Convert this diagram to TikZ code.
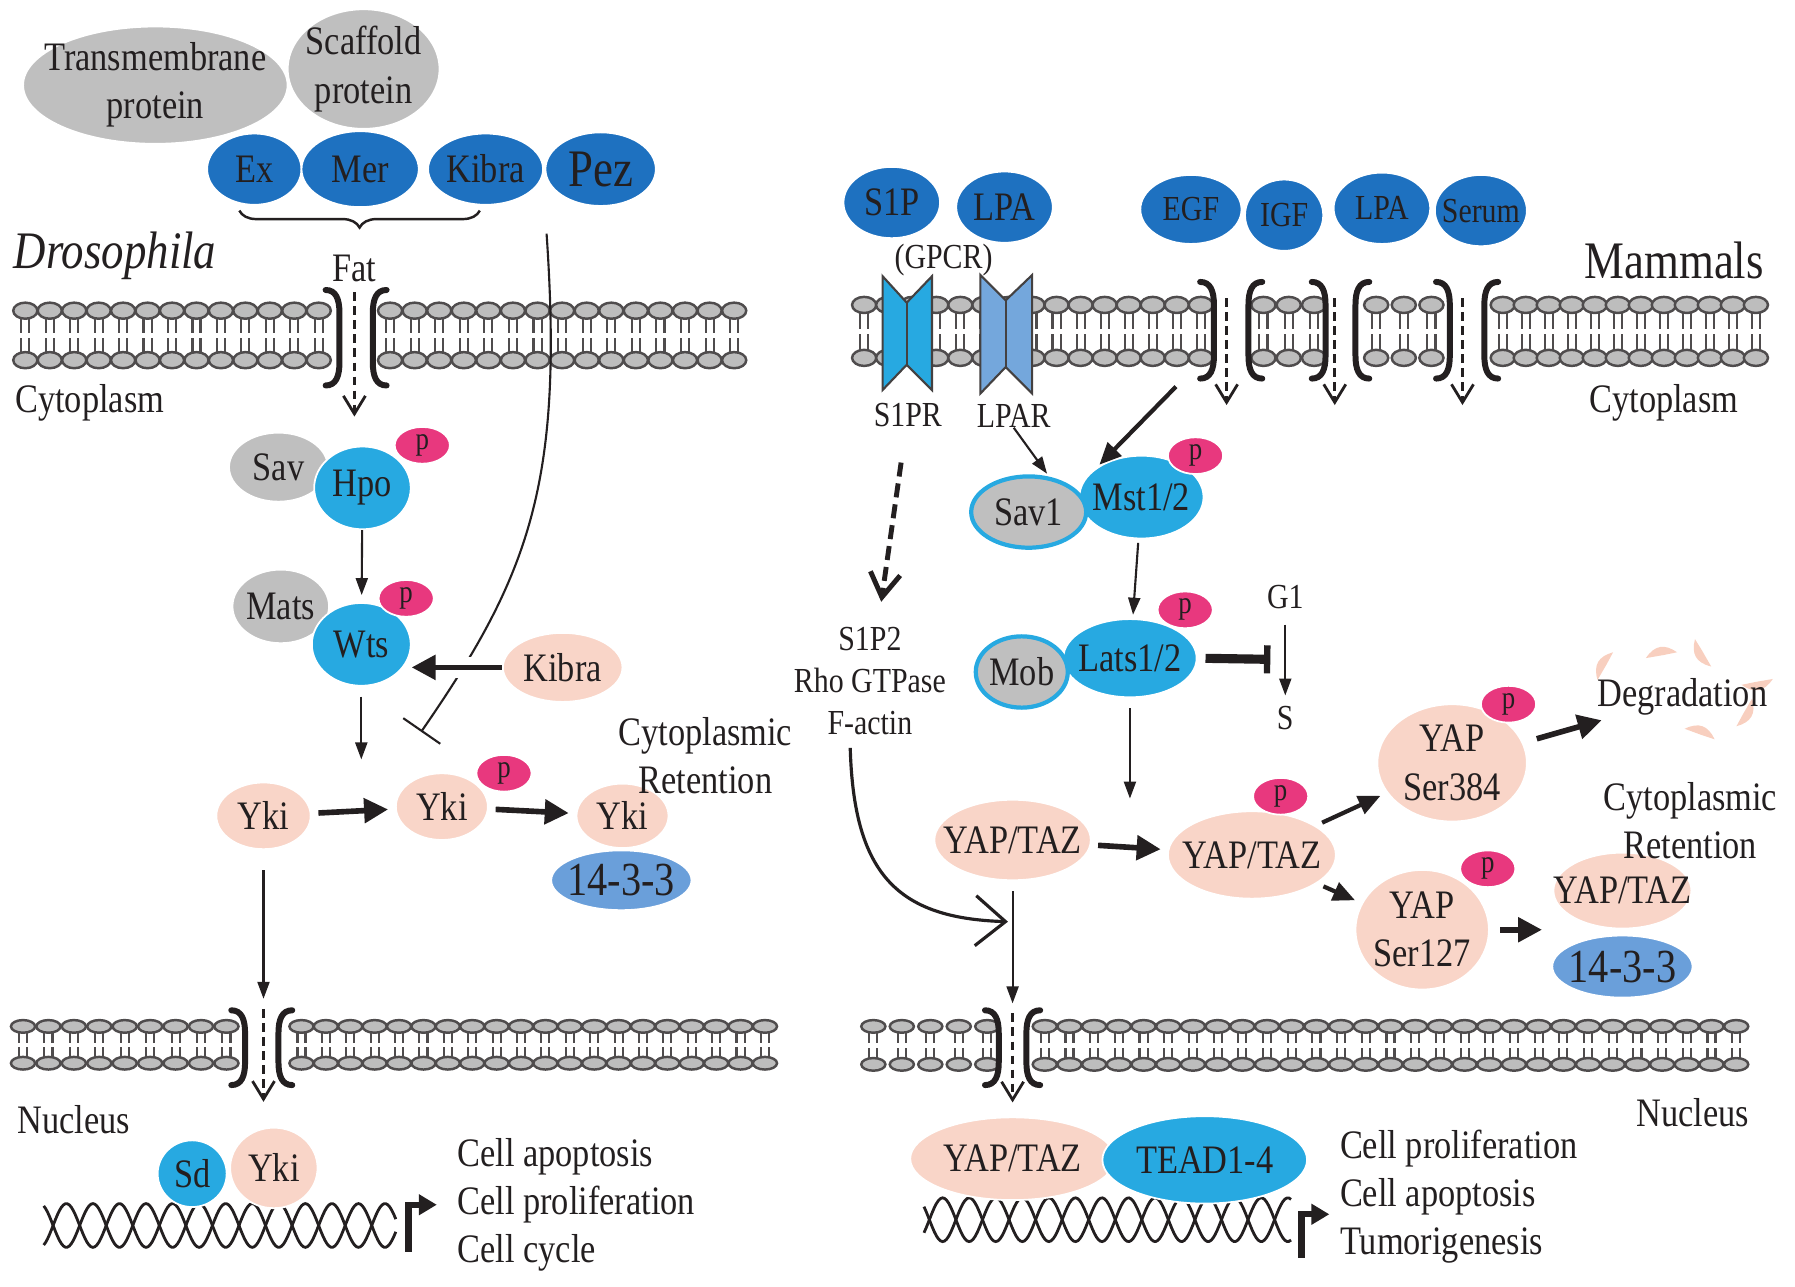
\documentclass[tikz,border=0pt]{standalone}
\usepackage{fontspec}
\setmainfont{Liberation Serif}[FakeStretch=0.85]
\usetikzlibrary{shapes.geometric,arrows.meta,decorations.pathreplacing}

\definecolor{darkblue}{HTML}{1E71C0}
\definecolor{cyanp}{HTML}{27A9E1}
\definecolor{midblue}{HTML}{6A9FDA}
\definecolor{lparblue}{HTML}{74A7DC}
\definecolor{pinkp}{HTML}{F9D5C8}
\definecolor{shardpink}{HTML}{F8CFBF}
\definecolor{grayp}{HTML}{BFBFBF}
\definecolor{magp}{HTML}{E8387E}
\definecolor{lipidgray}{HTML}{BDBDBD}
\definecolor{ink}{HTML}{231F20}

\newcommand\mainf{\fontsize{11.5}{13.7}\selectfont}
\newcommand\smallf{\fontsize{10}{12}\selectfont}
\newcommand\bigf{\fontsize{15}{18}\selectfont}
\newcommand\midf{\fontsize{13.5}{16}\selectfont}
\newcommand\pf{\fontsize{9}{10}\selectfont}

\tikzset{
  prot/.style={ellipse, inner sep=0pt, draw=white, line width=0.5pt},
  sz/.style 2 args={minimum width=#1*0.023cm, minimum height=#2*0.023cm},
  lbl/.style={font=\mainf, text=ink, inner sep=0pt, align=center},
  txt/.style={label={[lbl]center:#1}},
  txtsmall/.style={label={[lbl, font=\smallf]center:#1}},
  txtbig/.style={label={[lbl, font=\bigf]center:#1}},
  txtmid/.style={label={[lbl, font=\midf]center:#1}},
  phos/.style={prot, fill=magp, sz={24}{16}, label={[lbl, font=\pf]center:p}},
  lhead/.style={fill=lipidgray, draw=ink!80, line width=0.7pt},
  ltail/.style={draw=ink!80, line width=0.6pt},
  brk/.style={line width=1.7pt, draw=ink, line cap=round},
  rcp/.style={draw=ink!85, line width=0.6pt},
  dna/.style={line width=0.8pt, draw=ink},
  arrthin/.style={line width=0.6pt, draw=ink, -{Triangle[length=1.7mm, width=1.2mm]}},
  arrmid/.style={line width=1.2pt, draw=ink, -{Triangle[length=2.2mm, width=1.9mm]}},
  arrthick/.style={line width=1.6pt, draw=ink, -{Triangle[length=2.4mm, width=2.4mm]}},
  dasharr/.style={line width=0.8pt, draw=ink, dash pattern=on 2.5pt off 1.5pt, -{Straight Barb[length=1.8mm, width=2.2mm]}},
  dashthick/.style={line width=1.4pt, draw=ink, dash pattern=on 4pt off 2pt, -{Straight Barb[length=2.4mm, width=3mm]}},
  inhib/.style={line width=2.6pt, draw=ink, -{Bar[width=2.8mm, line width=1.8pt]}},
  inhthin/.style={line width=0.6pt, draw=ink, -{Bar[width=4.5mm]}},
  openv/.style={line width=0.9pt, draw=ink, -{Straight Barb[length=3mm, width=5mm]}},
  prom/.style={line width=1.8pt, draw=ink, -{Triangle[length=1.8mm, width=2mm]}},
}

% one lipid bilayer piece: first x, count, spacing, top y, bottom y, head y radius
\newcommand\lipidrow[6]{%
  \foreach \i in {1,...,#2}{%
    \pgfmathsetmacro\hx{#1+(\i-1)*#3}%
    \pgfmathsetmacro\hxa{\hx-3.5}%
    \pgfmathsetmacro\hxb{\hx+3.5}%
    \pgfmathsetmacro\hm{(#4+#5)/2}%
    \draw[ltail] (\hxa,#4) -- (\hxa,\hm-2) (\hxb,#4) -- (\hxb,\hm-2)
                 (\hxa,#5) -- (\hxa,\hm+2) (\hxb,#5) -- (\hxb,\hm+2);
    \filldraw[lhead] (\hx,#4) ellipse [x radius=10.5, y radius=#6]
                     (\hx,#5) ellipse [x radius=10.5, y radius=#6];
  }}
% pore brackets: x of the ends, top y, bottom y
\newcommand\rbrk[3]{\draw[brk] (#1,#2) .. controls (#1+9,#2) and (#1+12,#2+8) .. (#1+12,#2+20) -- (#1+12,#3-20) .. controls (#1+12,#3-8) and (#1+9,#3) .. (#1,#3);}
\newcommand\lbrk[3]{\draw[brk] (#1,#2) .. controls (#1-9,#2) and (#1-12,#2+8) .. (#1-12,#2+20) -- (#1-12,#3-20) .. controls (#1-12,#3-8) and (#1-9,#3) .. (#1,#3);}

\begin{document}
\begin{tikzpicture}[x=0.0115cm, y=-0.0115cm]
\useasboundingbox (0,0) rectangle (1560,1118);

% membranes
\lipidrow{22}{13}{21.25}{270}{313}{7}
\lipidrow{339}{15}{21.36}{270}{313}{7}
\lipidrow{751}{15}{20.9}{265}{311}{7}
\lipidrow{1098}{3}{22}{265}{311}{7}
\lipidrow{1196}{3}{24}{265}{311}{7}
\lipidrow{1306}{12}{20}{265}{311}{7}
\lipidrow{20}{9}{22.1}{892}{924}{5.5}
\lipidrow{262}{20}{21.2}{892}{924}{5.5}
\lipidrow{759}{5}{24.75}{892}{925}{5.5}
\lipidrow{908}{29}{21.46}{892}{925}{5.5}

\rbrk{283}{252}{335} \lbrk{336}{252}{335}
\rbrk{1043}{245}{329} \lbrk{1097}{245}{329}
\rbrk{1140}{245}{329} \lbrk{1190}{245}{329}
\rbrk{1248}{245}{329} \lbrk{1302}{245}{329}
\rbrk{201}{878}{943} \lbrk{254}{878}{943}
\rbrk{856}{878}{943} \lbrk{904}{878}{943}

% receptors
\filldraw[rcp, fill=cyanp] (767,240) -- (788,263) -- (810,240) -- (810,339) -- (788,317) -- (767,339) -- cycle;
\draw[rcp] (788,263) -- (788,317);
\filldraw[rcp, fill=lparblue] (852,239) -- (874,261) -- (897,239) -- (897,342) -- (874,319) -- (852,342) -- cycle;
\draw[rcp] (874,261) -- (874,319);

% DNA
\draw[dna] plot[domain=38:344, samples=180] (\x, {1065+19*sin(7.8*\x)});
\draw[dna] plot[domain=38:344, samples=180] (\x, {1065-19*sin(7.8*\x)});
\draw[dna] plot[domain=803:1122, samples=180] (\x, {1060+19*sin(7.8*\x)});
\draw[dna] plot[domain=803:1122, samples=180] (\x, {1060-19*sin(7.8*\x)});

% Drosophila
\node[prot, fill=grayp, sz={115}{51}, txt={Transmembrane\\protein}] (tmp) at (135,74) {};
\node[prot, fill=grayp, sz={66}{52}, txt={Scaffold\\protein}] (scaf) at (316,60) {};
\node[prot, fill=darkblue, sz={41}{31}, txt=Ex] (ex) at (221,147) {};
\node[prot, fill=darkblue, sz={51}{33}, txt=Mer] (mer) at (313,147) {};
\node[prot, fill=darkblue, sz={50}{31}, txt=Kibra] (kibt) at (422,147) {};
\node[prot, fill=darkblue, sz={48}{32}, txtbig=Pez] (pez) at (522,147) {};
\draw[line width=0.7pt, draw=ink, decorate, decoration={brace, amplitude=1.7mm}] (417,183) -- (208,183);
\node[lbl] (fat) at (308,233) {Fat};
\node[lbl, font=\bigf\itshape] (droso) at (100,222) {Drosophila};
\node[lbl] (cytol) at (78,350) {Cytoplasm};

\node[prot, fill=grayp, sz={43}{30}, txt=Sav] (sav) at (242,406) {};
\node[prot, fill=cyanp, sz={42}{36}, txt=Hpo] (hpo) at (315,424) {};
\node[phos] (phpo) at (367,387) {};
\node[prot, fill=grayp, sz={42}{32}, txt=Mats] (mats) at (244,527) {};
\node[prot, fill=cyanp, sz={43}{36}, txt=Wts] (wts) at (314,560) {};
\node[phos] (pwts) at (353,520) {};
\node[prot, fill=pinkp, sz={52}{30}, txt=Kibra] (kib) at (489,580) {};
\node[prot, fill=pinkp, sz={41}{29}, txt=Yki] (yki1) at (229,709) {};
\node[prot, fill=pinkp, sz={40}{29}, txt=Yki] (yki2) at (384,701) {};
\node[phos] (pyki) at (438,672) {};
\node[prot, fill=pinkp, sz={40}{28}, txt=Yki] (yki3) at (541,709) {};
\node[prot, fill=midblue, sz={61}{26}, txtmid=14-3-3] (l1433) at (540,765) {};
\node[lbl] (retl) at (613,657) {Cytoplasmic\\Retention};
\node[lbl] (nucl) at (64,973) {Nucleus};
\node[prot, fill=cyanp, sz={30}{29}, txt=Sd] (sd) at (167,1020) {};
\node[prot, fill=pinkp, sz={38}{35}, txt=Yki] (ykin) at (238,1015) {};
\node[lbl, anchor=west, align=left] (outl) at (397,1047) {Cell apoptosis\\Cell proliferation\\Cell cycle};

\coordinate (fatin) at (308,362);
\coordinate (ykiact) at (314,660);
\coordinate (gatel) at (229,868);
\coordinate (pezfoot) at (475,203);
\coordinate (ykiinh) at (366,636);
\draw[dasharr, shorten <=0.1cm] (fat) -- (fatin);
\draw[inhthin] (pezfoot) .. controls (490,420) and (460,500) .. (ykiinh);
\draw[arrthin, shorten >=2pt] (hpo) -- (wts);
\draw[arrthin, shorten <=0.1cm] (wts.south) -- (ykiact);
\draw[white, line width=6pt, shorten <=0.25cm, shorten >=0.25cm] (kib.west) -- (kib.west -| wts.east);
\draw[arrthick] (kib.west) -- (kib.west -| wts.east);
\draw[arrthick, shorten <=2pt, shorten >=2pt] (yki1) -- (yki2);
\draw[arrthick, shorten <=2pt, shorten >=2pt] (yki2) -- (yki3);
\draw[arrthin, shorten <=0.2cm] (yki1) -- (gatel);
\draw[dasharr, shorten <=0.1cm, shorten >=0.25cm] (gatel) -- (gatel |- ykin.north);
\draw[prom] (355,1088) |- ([xshift=-0.2cm]outl.west);

% Mammals
\node[prot, fill=darkblue, sz={42}{31}, txt=S1P] (s1p) at (775,176) {};
\node[prot, fill=darkblue, sz={42}{31}, txt=LPA] (lpa) at (873,180) {};
\node[prot, fill=darkblue, sz={44}{30}, txtsmall=EGF] (egf) at (1035,182) {};
\node[prot, fill=darkblue, sz={34}{31}, txtsmall=IGF] (igf) at (1116,187) {};
\node[prot, fill=darkblue, sz={42}{31}, txtsmall=LPA] (lpab) at (1201,181) {};
\node[prot, fill=darkblue, sz={40}{31}, txtsmall=Serum] (serum) at (1287,183) {};
\node[lbl, font=\smallf] (gpcr) at (820,226) {(GPCR)};
\node[lbl, font=\bigf] (mammals) at (1455,226) {Mammals};
\node[lbl] (cytor) at (1446,350) {Cytoplasm};
\node[lbl, font=\smallf] (s1prl) at (789,361) {S1PR};
\node[lbl, font=\smallf] (lparl) at (881,361) {LPAR};

\node[prot, fill=cyanp, sz={54}{36}, txt=Mst1/2] (mst) at (992,432) {};
\node[prot, fill=grayp, draw=cyanp, line width=1.2pt, sz={50}{31}, txt=Sav1] (sav1) at (894,445) {};
\node[phos] (pmst) at (1039,396) {};
\node[prot, fill=cyanp, sz={58}{34}, txt=Lats1/2] (lats) at (982,572) {};
\node[prot, fill=grayp, draw=cyanp, line width=1.2pt, sz={40}{31}, txt=Mob] (mob) at (888,584) {};
\node[phos] (plats) at (1030,530) {};
\node[lbl, font=\smallf] (g1) at (1117,519) {G1};
\node[lbl, font=\smallf] (sS) at (1117,624) {S};
\node[lbl, font=\smallf] (rho) at (756,592) {S1P2\\Rho GTPase\\F-actin};

\node[prot, fill=pinkp, sz={68}{35}, txt=YAP/TAZ] (yt1) at (880,730) {};
\node[prot, fill=pinkp, sz={73}{38}, txt=YAP/TAZ] (yt2) at (1088,743) {};
\node[phos] (pyt2) at (1113,692) {};
\node[prot, fill=pinkp, sz={65}{51}, txt={YAP\\Ser384}] (s384) at (1262,663) {};
\node[phos] (p384) at (1311,612) {};
\node[prot, fill=pinkp, sz={58}{52}, txt={YAP\\Ser127}] (s127) at (1236,808) {};
\node[phos] (p127) at (1293,755) {};
\node[prot, fill=pinkp, sz={60}{33}, txt=YAP/TAZ] (yt3) at (1410,774) {};
\node[prot, fill=midblue, sz={61}{27}, txtmid=14-3-3] (r1433) at (1410,840) {};
\foreach \sx/\sy/\sr in {1395/580/20, 1443/570/-30, 1481/568/80, 1528/592/150, 1516/618/200, 1476/638/-60}
  \fill[shardpink, rotate around={\sr:(\sx,\sy)}] (\sx-10,\sy+8) .. controls (\sx-9,\sy-6) and (\sx-2,\sy-11) .. (\sx+11,\sy-10) -- (\sx+2,\sy-2) -- cycle;
\node[lbl] (degr) at (1462,606) {Degradation};
\node[lbl] (retr) at (1469,713) {Cytoplasmic\\Retention};
\node[lbl] (nucr) at (1471,967) {Nucleus};
\node[prot, fill=pinkp, sz={89}{36}, txt=YAP/TAZ] (ytn) at (880,1007) {};
\node[prot, fill=cyanp, sz={89}{38}, txt=TEAD1-4] (tead) at (1047,1008) {};
\node[lbl, anchor=west, align=left] (outr) at (1164,1040) {Cell proliferation\\Cell apoptosis\\Tumorigenesis};

\coordinate (rtkin) at (1022,336);
\coordinate (ytact) at (982,694);
\coordinate (inhs) at (1104,573);
\coordinate (gater) at (880,872);
\coordinate (actin) at (876,801);
\foreach \gx [count=\k] in {1066,1160,1271} {
  \coordinate (gin\k) at (\gx,259);
  \coordinate (gout\k) at (\gx,352);
  \draw[dasharr] (gin\k) -- (gout\k);
}
\draw[arrmid, shorten >=1pt] (rtkin) -- (mst.north west);
\draw[arrthin, shorten >=1pt] (lparl.south) -- (sav1.60);
\draw[dashthick, shorten <=0.35cm, shorten >=0.25cm] (s1prl) -- (rho);
\draw[arrthin, shorten <=1pt, shorten >=1pt] (mst) -- (lats);
\draw[arrthin, shorten <=0.1cm] (lats.south) -- (ytact);
\draw[inhib, shorten <=0.08cm] (lats.east) -- (inhs);
\draw[arrthin, shorten <=0.15cm, shorten >=0.1cm] (g1) -- (sS);
\draw[arrthick, shorten <=2pt, shorten >=2pt] (yt1) -- (yt2);
\draw[arrmid, shorten <=2pt, shorten >=2pt] (yt2) -- (s384);
\draw[arrmid, shorten <=2pt, shorten >=2pt] (yt2) -- (s127);
\draw[arrthick, shorten <=4pt, shorten >=4pt] (s384) -- (degr);
\draw[arrthick, shorten <=3pt, shorten >=3pt] (s127.east) -- (s127.east -| yt3.west);
\draw[arrthin, shorten <=0.1cm] (yt1) -- (gater);
\draw[dasharr, shorten <=0.1cm, shorten >=0.14cm] (gater) -- (ytn);
\draw[openv, shorten <=0.12cm] ([xshift=-0.2cm]rho.south) .. controls (742,760) and (780,798) .. (actin);
\draw[prom] (1131,1093) |- ([xshift=-0.1cm, yshift=-5pt]outr.west);
\end{tikzpicture}
\end{document}
